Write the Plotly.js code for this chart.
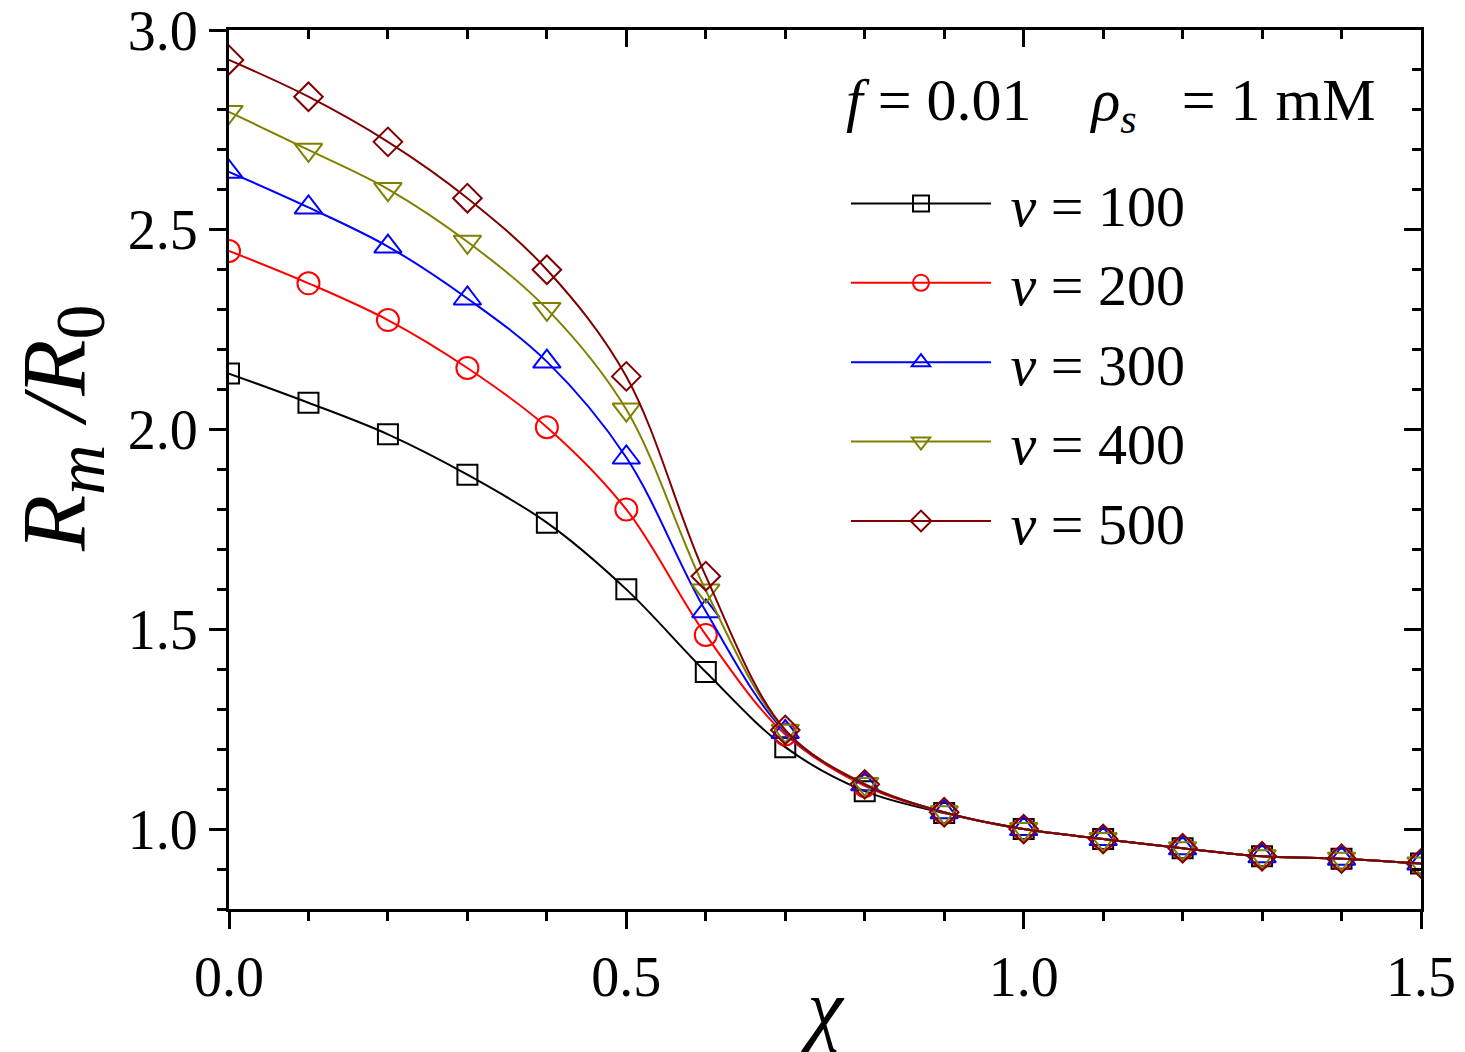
<!DOCTYPE html>
<html>
<head>
<meta charset="utf-8">
<script src="https://cdn.plot.ly/plotly-3.0.1.min.js"></script>
<style>html,body{margin:0;padding:0;background:#fff;}</style>
</head>
<body>
<div id="chart" style="width:1465px;height:1052px;"></div>
<script>
const chi = [0.0, 0.1, 0.2, 0.3, 0.4, 0.5, 0.6, 0.7, 0.8, 0.9, 1.0, 1.1, 1.2, 1.3, 1.4, 1.5];
const nu100 = [2.140, 2.067, 1.988, 1.887, 1.767, 1.600, 1.393, 1.205, 1.095, 1.040, 1.000, 0.975, 0.952, 0.932, 0.926, 0.914];
const nu200 = [2.447, 2.366, 2.274, 2.154, 2.006, 1.800, 1.486, 1.237, 1.108, 1.041, 1.000, 0.975, 0.952, 0.932, 0.926, 0.914];
const nu300 = [2.645, 2.556, 2.458, 2.328, 2.170, 1.930, 1.545, 1.243, 1.112, 1.042, 1.000, 0.975, 0.952, 0.932, 0.926, 0.914];
const nu400 = [2.795, 2.700, 2.602, 2.470, 2.302, 2.050, 1.597, 1.246, 1.113, 1.042, 1.000, 0.975, 0.952, 0.932, 0.926, 0.914];
const nu500 = [2.925, 2.833, 2.720, 2.579, 2.400, 2.133, 1.633, 1.248, 1.112, 1.042, 1.000, 0.975, 0.952, 0.932, 0.926, 0.914];
const seriesNames = ["<i>ν</i> = 100", "<i>ν</i> = 200", "<i>ν</i> = 300", "<i>ν</i> = 400", "<i>ν</i> = 500"];
const xTitle = '<i>χ</i>';
const yTitle = '<i>R</i><sub><span style="font-size:70px"><i>m</i></span></sub>\u00A0<i>/R</i><sub><span style="font-size:70px">0</span></sub>';
const infoText = '<i>f</i> = 0.01\u00A0\u00A0\u00A0\u00A0<i>ρ</i><sub><span style="color:#000"><i>s</i></span></sub>\u00A0\u00A0 = 1 mM';

const FONT = '"Liberation Serif", "Times New Roman", Times, serif';
const colors = ["#000000", "#ff0000", "#0000ff", "#808000", "#800000"];
const symbols = ["square-open", "circle-open", "triangle-up-open", "triangle-down-open", "diamond-open"];
const sizes = [20, 22, 24, 24, 22];
const ys = [nu100, nu200, nu300, nu400, nu500];

const traces = ys.map((y, i) => ({
  x: chi, y: y, type: 'scatter', mode: 'lines+markers',
  name: '\u00A0' + seriesNames[i], legendgroup: 'g' + i,
  xaxis: i === 4 ? 'x2' : 'x', yaxis: i === 4 ? 'y2' : 'y',
  line: {color: colors[i], width: 2, shape: 'spline', smoothing: 1},
  marker: {symbol: symbols[i], size: sizes[i], color: colors[i], line: {color: colors[i], width: 2}},
  cliponaxis: true
}));

const axisCommon = {
  showline: true, linecolor: '#000', linewidth: 3, showgrid: false, zeroline: false,
  ticklen: 17, tickwidth: 3, tickcolor: '#000', ticklabeloverflow: 'allow',
  tickfont: {family: FONT, size: 56, color: '#000'}
};
const xRange = [0, 1.5];
const yRange = [0.8, 3.0];

const layout = {
  width: 1465, height: 1052,
  margin: {l: 229, r: 44, t: 30, b: 143},
  paper_bgcolor: '#fff', plot_bgcolor: '#fff',
  font: {family: FONT, color: '#000'},
  showlegend: true,
  legend: {
    x: 0.5176, y: 0.853, xanchor: 'left', yanchor: 'top',
    bgcolor: 'rgba(0,0,0,0)', borderwidth: 0,
    font: {family: FONT, size: 58, color: '#000'},
    traceorder: 'grouped', tracegroupgap: 1, itemwidth: 140
  },
  xaxis: Object.assign({}, axisCommon, {
    range: xRange, tick0: 0, dtick: 0.5, tickformat: '.1f', ticks: 'outside',
    minor: {dtick: 0.1, ticklen: 9, tickwidth: 3, tickcolor: '#000', ticks: 'outside'},
    title: {text: xTitle, font: {family: FONT, size: 80, color: '#000'}, standoff: 4}
  }),
  xaxis2: Object.assign({}, axisCommon, {
    range: xRange, tick0: 0, dtick: 0.5, ticks: 'inside', overlaying: 'x', side: 'top', anchor: 'y2',
    showticklabels: false,
    minor: {dtick: 0.1, ticklen: 9, tickwidth: 3, tickcolor: '#000', ticks: 'inside'}
  }),
  yaxis: Object.assign({}, axisCommon, {
    range: yRange, tick0: 0, dtick: 0.5, tickformat: '.1f', ticks: 'outside',
    minor: {dtick: 0.1, ticklen: 9, tickwidth: 3, tickcolor: '#000', ticks: 'outside'}
  }),
  yaxis2: Object.assign({}, axisCommon, {
    range: yRange, tick0: 0, dtick: 0.5, ticks: 'inside', overlaying: 'y', side: 'right', anchor: 'x2',
    showticklabels: false,
    minor: {dtick: 0.1, ticklen: 9, tickwidth: 3, tickcolor: '#000', ticks: 'inside'}
  }),
  annotations: [{
    xref: 'paper', yref: 'paper', x: 0.516, y: 0.915, xanchor: 'left', yanchor: 'middle',
    showarrow: false, text: infoText,
    font: {family: FONT, size: 60, color: '#000'}
  }, {
    xref: 'paper', yref: 'paper', x: -0.141, y: 0.547, xanchor: 'center', yanchor: 'middle',
    showarrow: false, textangle: -90, text: yTitle,
    font: {family: FONT, size: 92, color: '#000'}
  }]
};

Plotly.newPlot('chart', traces, layout, {displayModeBar: false, staticPlot: true});
</script>
</body>
</html>
